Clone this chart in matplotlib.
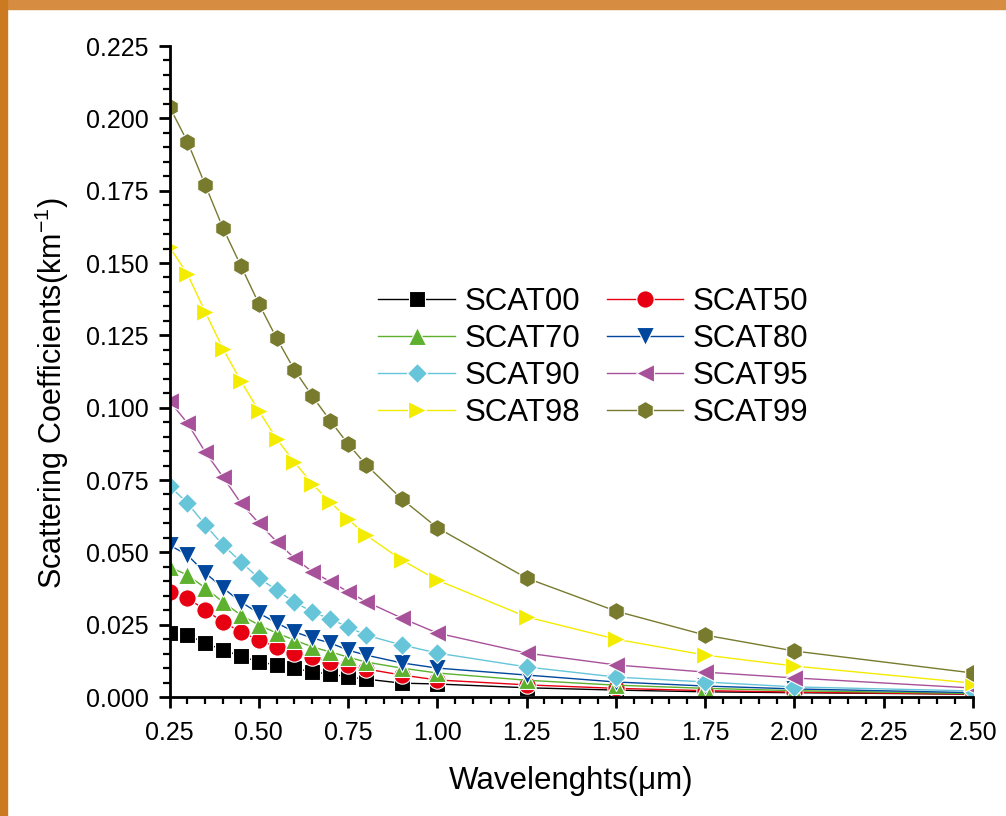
import matplotlib
matplotlib.use("Agg")
import matplotlib.pyplot as plt
from matplotlib.patches import Rectangle
from matplotlib.ticker import MultipleLocator, FormatStrFormatter

plt.rcParams['font.family'] = ['Liberation Sans', 'DejaVu Sans']
plt.rcParams['mathtext.fontset'] = 'custom'
plt.rcParams['mathtext.rm'] = 'Liberation Sans'

wavelength = [0.25, 0.30, 0.35, 0.40, 0.45, 0.50, 0.55, 0.60, 0.65, 0.70,
              0.75, 0.80, 0.90, 1.00, 1.25, 1.50, 1.75, 2.00, 2.50]

scat00 = [0.0221, 0.0214, 0.0187, 0.0162, 0.0142, 0.0121, 0.0111, 0.0100, 0.0086, 0.0080,
          0.0069, 0.0062, 0.0048, 0.0045, 0.0032, 0.0024, 0.0018, 0.0015, 0.0010]
scat50 = [0.0363, 0.0342, 0.0301, 0.0259, 0.0225, 0.0197, 0.0173, 0.0152, 0.0138, 0.0121,
          0.0111, 0.0097, 0.0076, 0.0059, 0.0042, 0.0030, 0.0022, 0.0017, 0.0010]
scat70 = [0.0449, 0.0422, 0.0377, 0.0328, 0.0283, 0.0249, 0.0221, 0.0197, 0.0173, 0.0156,
          0.0138, 0.0121, 0.0100, 0.0083, 0.0058, 0.0041, 0.0030, 0.0022, 0.0012]
scat80 = [0.0525, 0.0491, 0.0429, 0.0377, 0.0328, 0.0290, 0.0256, 0.0225, 0.0204, 0.0187,
          0.0162, 0.0145, 0.0118, 0.0100, 0.0076, 0.0052, 0.0038, 0.0028, 0.0015]
scat90 = [0.0729, 0.0671, 0.0595, 0.0525, 0.0467, 0.0411, 0.0370, 0.0328, 0.0294, 0.0270,
          0.0242, 0.0214, 0.0180, 0.0152, 0.0104, 0.0069, 0.0052, 0.0035, 0.0021]
scat95 = [0.1023, 0.0947, 0.0847, 0.0760, 0.0670, 0.0601, 0.0537, 0.0480, 0.0433, 0.0399,
          0.0364, 0.0330, 0.0273, 0.0221, 0.0152, 0.0111, 0.0086, 0.0066, 0.0031]
scat98 = [0.1556, 0.1462, 0.1331, 0.1203, 0.1092, 0.0989, 0.0892, 0.0812, 0.0736, 0.0674,
          0.0615, 0.0560, 0.0474, 0.0404, 0.0277, 0.0200, 0.0145, 0.0107, 0.0048]
scat99 = [0.2040, 0.1920, 0.1770, 0.1620, 0.1490, 0.1360, 0.1240, 0.1130, 0.1040, 0.0955,
          0.0875, 0.0803, 0.0685, 0.0585, 0.0411, 0.0297, 0.0214, 0.0159, 0.0083]

series = [
    ("SCAT00", scat00, "#000000", "s", 11.5),
    ("SCAT50", scat50, "#E60012", "o", 12.5),
    ("SCAT70", scat70, "#5DB12E", "^", 13.5),
    ("SCAT80", scat80, "#00479D", "v", 13.5),
    ("SCAT90", scat90, "#66C5D8", "D", 10),
    ("SCAT95", scat95, "#A8519B", "<", 13.5),
    ("SCAT98", scat98, "#F4EC00", ">", 13.5),
    ("SCAT99", scat99, "#787A2E", "h", 13),
]

fig = plt.figure(figsize=(10.06, 8.16), dpi=100)
ax = fig.add_axes([0.1685, 0.1458, 0.7987, 0.7978])

handles = {}
for name, vals, color, marker, ms in series:
    line, = ax.plot(wavelength, vals, color=color, lw=1.0, marker=marker, ms=ms,
                    mfc=color, mec="white", mew=0.8, label=name)
    handles[name] = line

ax.set_xlim(0.25, 2.5)
ax.set_ylim(0, 0.225)
ax.xaxis.set_major_locator(MultipleLocator(0.25))
ax.xaxis.set_minor_locator(MultipleLocator(0.05))
ax.yaxis.set_major_locator(MultipleLocator(0.025))
ax.yaxis.set_minor_locator(MultipleLocator(0.005))
ax.xaxis.set_major_formatter(FormatStrFormatter("%.2f"))
ax.yaxis.set_major_formatter(FormatStrFormatter("%.3f"))

for side in ["top", "right"]:
    ax.spines[side].set_visible(False)
for side in ["left", "bottom"]:
    ax.spines[side].set_linewidth(2.0)

ax.tick_params(which="major", direction="out", length=8, width=2.0, labelsize=18)
ax.tick_params(which="minor", direction="out", length=5, width=1.6)
ax.tick_params(axis="x", which="major", pad=9)
ax.tick_params(axis="y", which="major", pad=7)

ax.set_xlabel("Wavelenghts(\u03bcm)", fontsize=22.5)
ax.set_ylabel(r"Scattering Coefficients(km$^{\mathregular{-1}}$)", fontsize=22)
ax.xaxis.set_label_coords(0.5, -0.106)
ax.yaxis.set_label_coords(-0.122, 0.467)

# legend is filled row by row in the original
order = ["SCAT00", "SCAT70", "SCAT90", "SCAT98", "SCAT50", "SCAT80", "SCAT95", "SCAT99"]
ax.legend([handles[n] for n in order], order, ncol=2, frameon=False, fontsize=22.5,
          loc="upper left", bbox_to_anchor=(0.376, 0.648), bbox_transform=fig.transFigure,
          numpoints=1, handlelength=2.45, handletextpad=0.3,
          columnspacing=0.85, labelspacing=0.22, borderpad=0, borderaxespad=0)

# orange frame strips at top and left
fig.patches.append(Rectangle((0, 1 - 9 / 816), 1, 9 / 816, transform=fig.transFigure,
                             color="#D68D42", zorder=0))
fig.patches.append(Rectangle((0, 0), 7 / 1006, 1, transform=fig.transFigure,
                             color="#CC7A22", zorder=0))

fig.savefig("out.png", dpi=100)
